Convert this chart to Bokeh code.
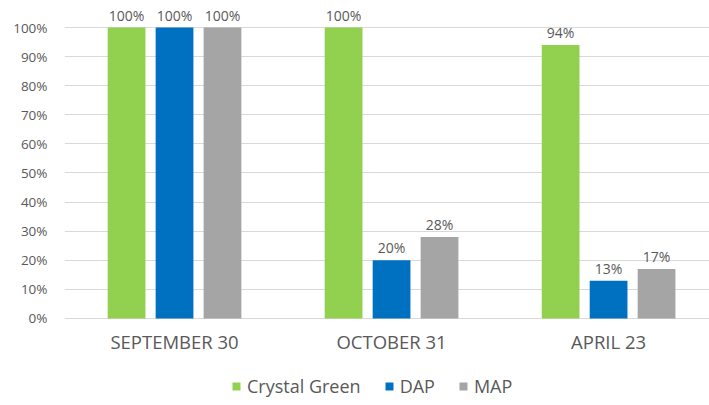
from bokeh.plotting import figure
from bokeh.models import (ColumnDataSource, FixedTicker, NumeralTickFormatter, Range1d,
                          LabelSet, Legend, LegendItem)
from bokeh.core.properties import value
from bokeh.embed import file_html
from bokeh.resources import INLINE

categories = ["SEPTEMBER 30", "OCTOBER 31", "APRIL 23"]
series_names = ["Crystal Green", "DAP", "MAP"]
crystal_green = [1.00, 1.00, 0.94]
dap = [1.00, 0.20, 0.13]
mapv = [1.00, 0.28, 0.17]
colors = ["#92D050", "#0070C0", "#A5A5A5"]
y_ticks = [0, 0.1, 0.2, 0.3, 0.4, 0.5, 0.6, 0.7, 0.8, 0.9, 1.0]

FONT = "Open Sans"
TXT = "#595959"

# frame covers the lower band too, so that category labels and legend are drawn inside it
p = figure(width=709, height=405, output_backend="svg", toolbar_location=None,
           x_range=Range1d(-0.507, 2.465), y_range=Range1d(-0.299, 1.0653),
           min_border_left=64, min_border_right=0, min_border_top=8, min_border_bottom=0)
p.outline_line_color = None
p.background_fill_color = "white"
p.border_fill_color = "white"

offsets = [-0.221, 0.0, 0.221]
bar_w = 0.174
renderers = []
for name, vals, col, off in zip(series_names, [crystal_green, dap, mapv], colors, offsets):
    xs = [i + off for i in range(len(categories))]
    src = ColumnDataSource(dict(x=xs, top=vals, lab=[f"{round(v*100)}%" for v in vals]))
    r = p.vbar(x="x", top="top", width=bar_w, bottom=0, source=src,
               fill_color=col, line_color=None)
    renderers.append(r)
    labels = LabelSet(x="x", y="top", text="lab", source=src, text_align="center",
                      text_baseline="alphabetic", y_offset=7, text_color=TXT,
                      text_font=value(FONT), text_font_size="14px")
    p.add_layout(labels)

# category labels (x axis)
cat_src = ColumnDataSource(dict(x=list(range(len(categories))), y=[0] * len(categories),
                                lab=categories))
p.add_layout(LabelSet(x="x", y="y", text="lab", source=cat_src, text_align="center",
                      text_baseline="middle", y_offset=-23, text_color=TXT,
                      text_font=value(FONT), text_font_size="18.5px"))
p.xaxis.visible = False

p.yaxis.ticker = FixedTicker(ticks=y_ticks)
p.yaxis.formatter = NumeralTickFormatter(format="0%")
p.yaxis.axis_line_color = None
p.yaxis.major_tick_line_color = None
p.yaxis.minor_tick_line_color = None
p.yaxis.major_label_text_font = FONT
p.yaxis.major_label_text_font_size = "13.5px"
p.yaxis.major_label_text_color = TXT
p.yaxis.major_label_standoff = 11

p.xgrid.grid_line_color = None
p.ygrid.ticker = FixedTicker(ticks=y_ticks)
p.ygrid.grid_line_color = "#D9D9D9"
p.ygrid.grid_line_width = 1

legend = Legend(items=[LegendItem(label=n, renderers=[r]) for n, r in zip(series_names, renderers)],
                orientation="horizontal", location=(167, 7),
                label_text_font=FONT, label_text_font_size="18px", label_text_color=TXT,
                glyph_width=10, glyph_height=10, label_standoff=6, spacing=23,
                border_line_color=None, background_fill_alpha=0, padding=0, margin=0)
p.add_layout(legend, "center")

open("out.html", "w").write(file_html(p, INLINE))
